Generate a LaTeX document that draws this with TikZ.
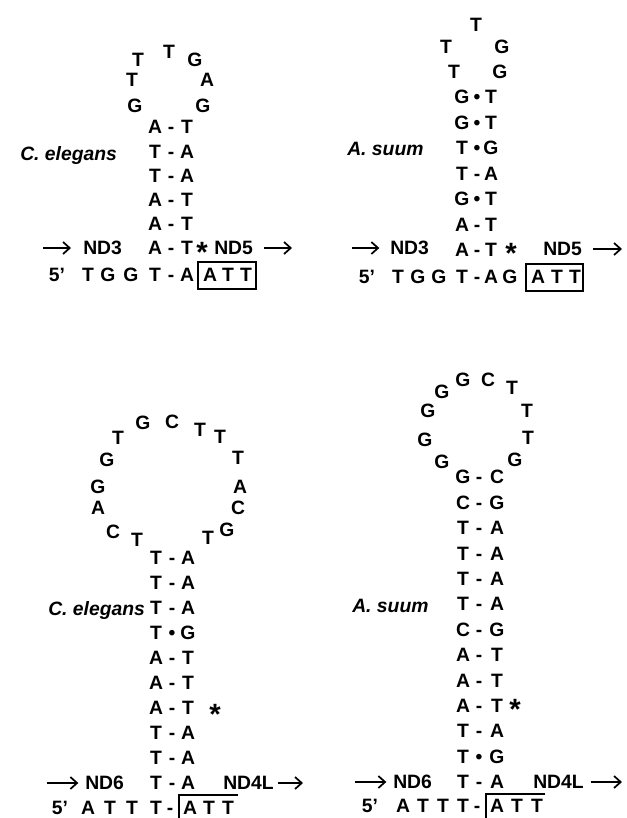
\documentclass[tikz,border=0pt]{standalone}
\usepackage{fontspec}
\setmainfont{Liberation Sans}
\usetikzlibrary{arrows.meta}
\begin{document}
\begin{tikzpicture}[x=0.75pt,y=-0.75pt,
  nt/.style={font=\bfseries\fontsize{14.5}{14.5}\selectfont, inner sep=0pt, text height=10.4pt, text depth=0pt, anchor=center},
  lab/.style={font=\bfseries\itshape\fontsize{14.5}{14.5}\selectfont, inner sep=0pt, anchor=base west},
  gene/.style={nt, anchor=west},
  astx/.style={font=\bfseries\fontsize{22}{22}\selectfont, inner sep=0pt, anchor=base},
  arr/.style={line width=1.3pt, -{Straight Barb[length=5pt,width=9pt,line width=1.3pt]}},
  frame/.style={line width=0.8pt}
]
\useasboundingbox (0,0) rectangle (627,818);
\fill[white] (0,0) rectangle (627,818);

% ---------------- Panel 1: C. elegans (top left)
\foreach \c/\x/\y [count=\i] in {G/135/106, T/132/80, T/138/60, T/169/52, G/195/60, A/207/80, G/203/106}
  \node[nt] (ao\i) at (\x,\y) {\c};
\foreach \l/\m/\r [count=\i] in {A/-/T, T/-/A, T/-/A, A/-/T, A/-/T, A/-/T}
  {\node[nt] (al\i) at (155,{127+24.2*(\i-1)}) {\l};
   \node[nt] (am\i) at (171,{127+24.2*(\i-1)}) {\m};
   \node[nt] (ar\i) at (187,{127+24.2*(\i-1)}) {\r};}
\foreach \c/\x [count=\i] in {5'/57, T/88, G/108, G/131, T/155, -/171, A/187, A/210, T/228, T/246}
  \node[nt] (ab\i) at (\x,275) {\c};
\node[draw, frame, inner sep=0pt, minimum width=43.5pt, minimum height=20.25pt] (abox) at (227,275.5) {};
\node[lab] (alab) at (20,160) {C. elegans};
\node[astx] (aast) at (202,262) {*};
\coordinate (a3s) at (43,248);
\node[gene] (aND3) at (83,248) {ND3};
\draw[arr, shorten >=9pt] (a3s) -- (aND3);
\node[gene] (aND5) at (214,248) {ND5};
\coordinate (a5e) at (292,248);
\draw[arr, shorten <=8pt] (aND5) -- (a5e);

% ---------------- Panel 2: A. suum (top right)
\foreach \c/\x/\y [count=\i] in {T/454/72, T/446/47, T/476/25, G/502/47, G/500/72}
  \node[nt] (bo\i) at (\x,\y) {\c};
\foreach \l/\m/\r [count=\i] in {G/•/T, G/•/T, T/•/G, T/-/A, G/•/T, A/-/T, A/-/T}
  {\node[nt] (bl\i) at (462,{97+25.5*(\i-1)}) {\l};
   \node[nt] (bm\i) at (477,{97+25.5*(\i-1)}) {\m};
   \node[nt] (br\i) at (491,{97+25.5*(\i-1)}) {\r};}
\foreach \c/\x [count=\i] in {5'/367, T/398, G/418, G/439, T/462, -/477, A/491, G/510, A/538, T/557, T/575}
  \node[nt] (bb\i) at (\x,277) {\c};
\node[draw, frame, inner sep=0pt, minimum width=42.75pt, minimum height=20.25pt] (bbox) at (554.5,277.5) {};
\node[lab] (blab) at (347,155) {A. suum};
\node[astx] (bast) at (511,263) {*};
\coordinate (b3s) at (352,248);
\node[gene] (bND3) at (390,248) {ND3};
\draw[arr, shorten >=8pt] (b3s) -- (bND3);
\node[gene] (bND5) at (543,249) {ND5};
\coordinate (b5e) at (622,249);
\draw[arr, shorten <=8pt] (bND5) -- (b5e);

% ---------------- Panel 3: C. elegans (bottom left)
\foreach \c/\x/\y [count=\i] in {T/137/540, C/113/532, A/98/508, G/98/487, G/107/460, T/118/438, G/143/423, C/172/422, T/200/430, T/220/437, T/238/458, A/240/487, C/238/508, G/227/530, T/208/538}
  \node[nt] (co\i) at (\x,\y) {\c};
\foreach \l/\m/\r [count=\i] in {T/-/A, T/-/A, T/-/A, T/•/G, A/-/T, A/-/T, A/-/T, T/-/A, T/-/A, T/-/A}
  {\node[nt] (cl\i) at (156,{558+25*(\i-1)}) {\l};
   \node[nt] (cm\i) at (172,{558+25*(\i-1)}) {\m};
   \node[nt] (cr\i) at (188,{558+25*(\i-1)}) {\r};}
\foreach \c/\x [count=\i] in {5'/60, A/88, T/110, T/132, T/156, -/170, A/190, T/209, T/228}
  \node[nt] (cb\i) at (\x,808) {\c};
\coordinate (cq1) at (179,818);
\coordinate (cq2) at (179,795);
\coordinate (cq3) at (238,795);
\draw[frame] (cq1) -- (cq2) -- (cq3);
\node[lab] (clab) at (48,615) {C. elegans};
\node[astx] (cast) at (215,724) {*};
\coordinate (c6s) at (47,783);
\node[gene] (cND6) at (85,783) {ND6};
\draw[arr, shorten >=5pt] (c6s) -- (cND6);
\node[gene] (cND4) at (223,783) {ND4L};
\coordinate (c4e) at (303,783);
\draw[arr, shorten <=3pt] (cND4) -- (c4e);

% ---------------- Panel 4: A. suum (bottom right)
\foreach \c/\x/\y [count=\i] in {G/442/462, G/425/440, G/428/411, G/442/392, G/463/380, C/488/380, T/512/388, T/527/411, T/528/438, G/515/460}
  \node[nt] (do\i) at (\x,\y) {\c};
\foreach \l/\m/\r [count=\i] in {G/-/C, C/-/G, T/-/A, T/-/A, T/-/A, T/-/A, C/-/G, A/-/T, A/-/T, A/-/T, T/-/A, T/•/G, T/-/A}
  {\node[nt] (dl\i) at (463,{477+25.4*(\i-1)}) {\l};
   \node[nt] (dm\i) at (479,{477+25.4*(\i-1)}) {\m};
   \node[nt] (dr\i) at (497,{477+25.4*(\i-1)}) {\r};}
\foreach \c/\x [count=\i] in {5'/370, A/403, T/423, T/443, T/463, -/477, A/497, T/517, T/537}
  \node[nt] (db\i) at (\x,806) {\c};
\coordinate (dq1) at (486,818);
\coordinate (dq2) at (486,794);
\coordinate (dq3) at (545,794);
\draw[frame] (dq1) -- (dq2) -- (dq3);
\node[lab] (dlab) at (352,612) {A. suum};
\node[astx] (dast) at (515,719) {*};
\coordinate (d6s) at (355,782);
\node[gene] (dND6) at (393,782) {ND6};
\draw[arr, shorten >=5pt] (d6s) -- (dND6);
\node[gene] (dND4) at (533,782) {ND4L};
\coordinate (d4e) at (622,782);
\draw[arr, shorten <=5pt] (dND4) -- (d4e);
\end{tikzpicture}
\end{document}
